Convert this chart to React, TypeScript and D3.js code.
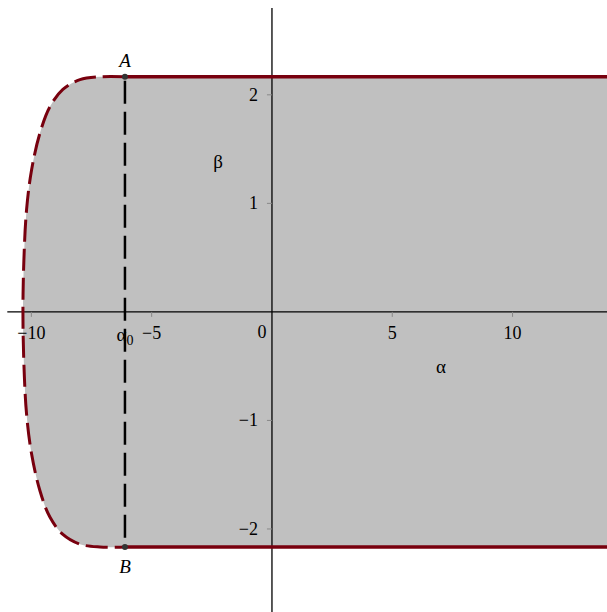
import React, { useEffect, useRef } from "react";
import * as d3 from "d3";

// left boundary of the region, read top (A) to bottom (B)
const curveAlpha = [-6.11, -7.15, -7.98, -8.69, -9.23, -9.64, -9.99, -10.2, -10.31, -10.35, -10.31, -10.2, -9.99, -9.64, -9.23, -8.69, -7.98, -7.15, -6.11];
const curveBeta = [2.166, 2.166, 2.14, 2.05, 1.89, 1.65, 1.31, 0.94, 0.48, 0, -0.48, -0.94, -1.31, -1.65, -1.89, -2.05, -2.14, -2.166, -2.166];

const betaMax = 2.166;
const alpha0 = -6.11;
const alphaEnd = 14;

const xTicks = [-10, -5, 5, 10];
const yTicks = [-2, -1, 1, 2];

const W = 607;
const H = 612;
const FONT = "'Times New Roman', Times, 'Liberation Serif', 'DejaVu Serif', serif";

const App = () => {
    const ref = useRef<SVGSVGElement | null>(null);

    useEffect(() => {
        if (!ref.current) return;
        const svg = d3.select(ref.current);
        svg.selectAll("*").remove();

        const x = d3.scaleLinear().domain([-11, 14]).range([7.3, 608.8]);
        const y = d3.scaleLinear().domain([-2.765, 2.8]).range([612, 8]);

        const pts: [number, number][] = curveAlpha.map((a, i) => [a, curveBeta[i]]);
        const curve = d3.line<[number, number]>()
            .x(d => x(d[0]))
            .y(d => y(d[1]))
            .curve(d3.curveCatmullRom.alpha(0.5));

        // shaded region
        const region = curve(pts) + `L${x(alphaEnd)},${y(-betaMax)}L${x(alphaEnd)},${y(betaMax)}Z`;
        svg.append("path").attr("d", region).attr("fill", "#c0c0c0");

        // axes
        svg.append("line")
            .attr("x1", x(-11)).attr("x2", x(14))
            .attr("y1", y(0)).attr("y2", y(0))
            .attr("stroke", "#000").attr("stroke-width", 1.3);
        svg.append("line")
            .attr("x1", x(0)).attr("x2", x(0))
            .attr("y1", y(2.8)).attr("y2", y(-2.765))
            .attr("stroke", "#000").attr("stroke-width", 1.3);

        // ticks
        svg.selectAll(".xt").data(xTicks).enter().append("line")
            .attr("x1", d => x(d)).attr("x2", d => x(d))
            .attr("y1", y(0)).attr("y2", y(0) + 5)
            .attr("stroke", "#888").attr("stroke-width", 1);
        svg.selectAll(".yt").data(yTicks).enter().append("line")
            .attr("x1", x(0) - 5).attr("x2", x(0))
            .attr("y1", d => y(d)).attr("y2", d => y(d))
            .attr("stroke", "#888").attr("stroke-width", 1);

        const fmt = (v: number) => (v < 0 ? "\u2212" + Math.abs(v) : String(v));

        const txt = (sel: any, size: number) =>
            sel.style("font-family", FONT).style("font-size", size + "px").attr("fill", "#000");

        txt(svg.selectAll(".xl").data(xTicks).enter().append("text")
            .attr("x", d => x(d)).attr("y", y(0) + 27)
            .attr("text-anchor", "middle")
            .text(d => fmt(d)), 18);
        txt(svg.append("text")
            .attr("x", x(0) - 10).attr("y", y(0) + 26)
            .attr("text-anchor", "middle")
            .text("0"), 18);
        txt(svg.selectAll(".yl").data(yTicks).enter().append("text")
            .attr("x", x(0) - 14).attr("y", d => y(d) + 6)
            .attr("text-anchor", "end")
            .text(d => fmt(d)), 18);

        // boundary: solid lines and dashed curve
        [betaMax, -betaMax].forEach(b => {
            svg.append("line")
                .attr("x1", x(alpha0)).attr("x2", x(alphaEnd))
                .attr("y1", y(b)).attr("y2", y(b))
                .attr("stroke", "#78000e").attr("stroke-width", 3.5);
        });
        svg.append("path")
            .attr("d", curve(pts))
            .attr("fill", "none")
            .attr("stroke", "#78000e").attr("stroke-width", 3)
            .attr("stroke-dasharray", "22,7");

        // alpha_0 vertical segment
        svg.append("line")
            .attr("x1", x(alpha0)).attr("x2", x(alpha0))
            .attr("y1", y(betaMax)).attr("y2", y(-betaMax))
            .attr("stroke", "#000").attr("stroke-width", 2.5)
            .attr("stroke-dasharray", "23,8").attr("stroke-dashoffset", -4);

        svg.selectAll(".pt").data([betaMax, -betaMax]).enter().append("circle")
            .attr("cx", x(alpha0)).attr("cy", d => y(d)).attr("r", 3)
            .attr("fill", "#333");

        // labels
        txt(svg.append("text")
            .attr("x", x(alpha0)).attr("y", y(betaMax) - 10)
            .attr("text-anchor", "middle").style("font-style", "italic")
            .text("A"), 19);
        txt(svg.append("text")
            .attr("x", x(alpha0)).attr("y", y(-betaMax) + 26)
            .attr("text-anchor", "middle").style("font-style", "italic")
            .text("B"), 19);

        const a0 = txt(svg.append("text")
            .attr("x", x(alpha0)).attr("y", y(0) + 29)
            .attr("text-anchor", "middle"), 19);
        a0.append("tspan").text("\u03b1");
        a0.append("tspan").attr("dy", 4).style("font-size", "14px").text("0");

        txt(svg.append("text")
            .attr("x", 218).attr("y", 168)
            .attr("text-anchor", "middle")
            .text("\u03b2"), 19);
        txt(svg.append("text")
            .attr("x", 441).attr("y", 373)
            .attr("text-anchor", "middle")
            .text("\u03b1"), 19);
    }, []);

    return (
        <svg ref={ref} width={W} height={H}
            style={{ position: "absolute", left: 0, top: 0, display: "block", background: "#fff" }} />
    );
};

export default App;
